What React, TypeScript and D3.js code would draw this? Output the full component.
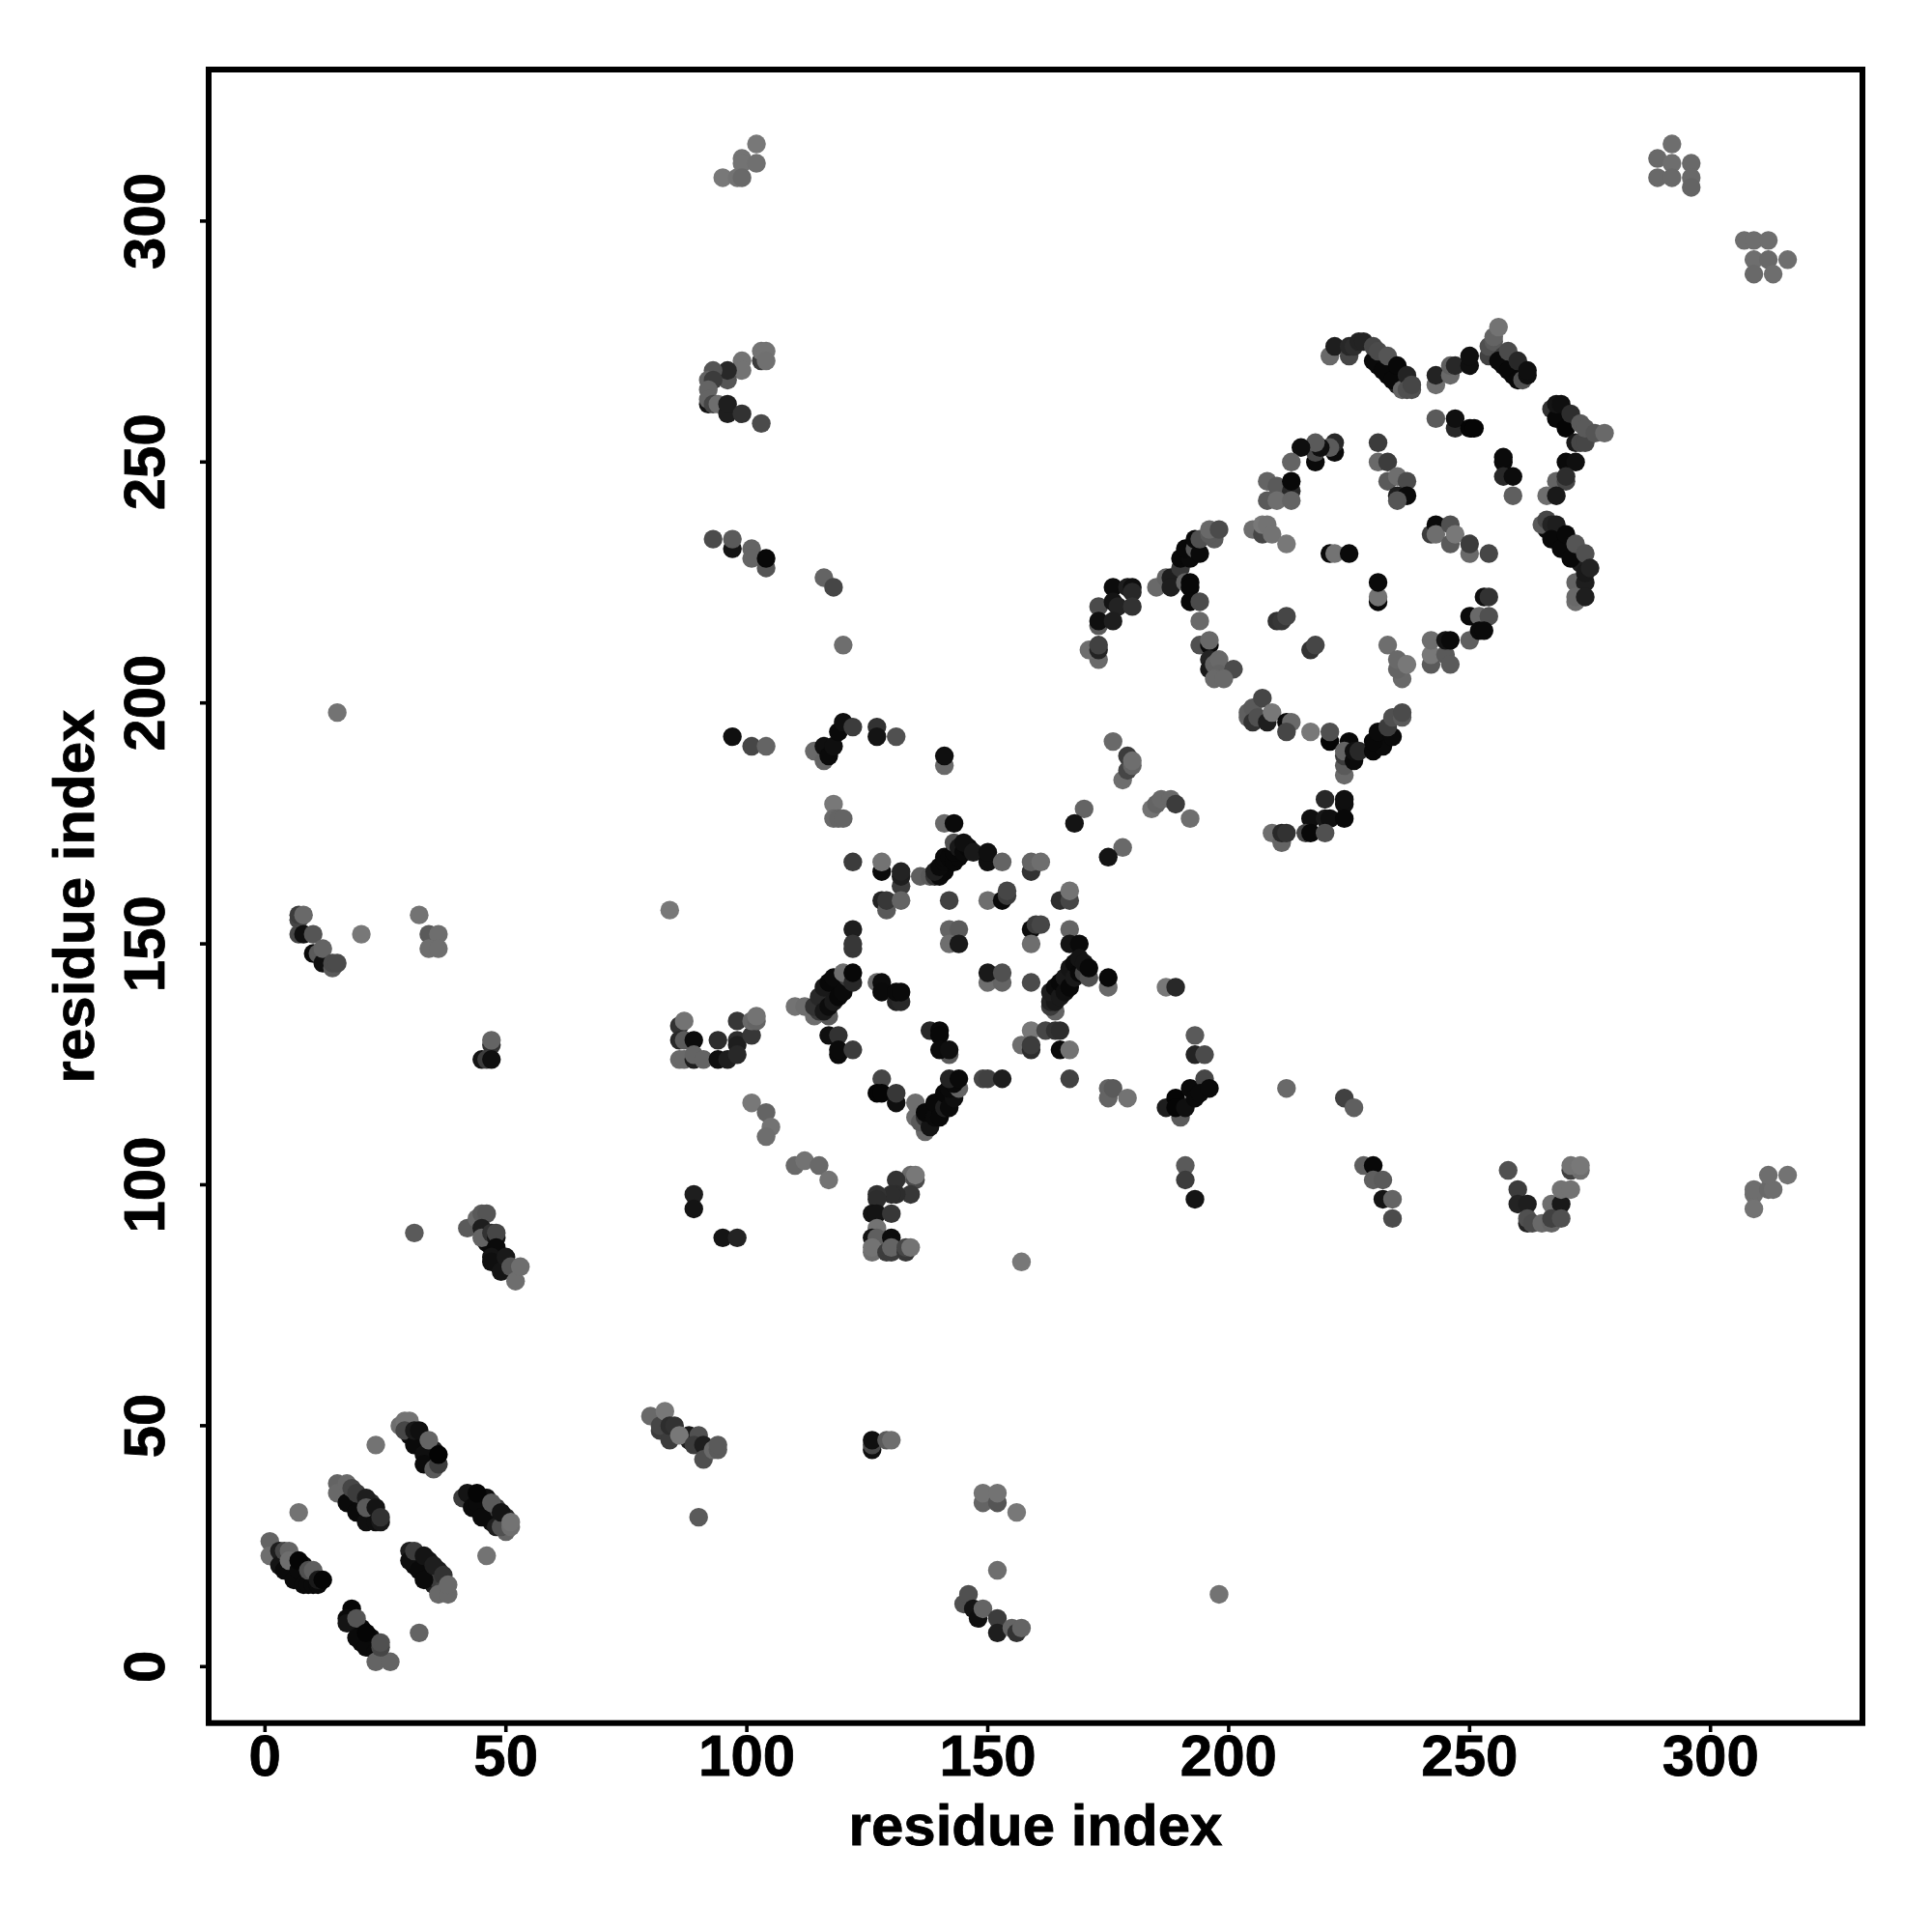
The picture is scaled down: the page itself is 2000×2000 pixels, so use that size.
import React from "react";
import * as d3 from "d3";

type P = [number, number, number];
const xTicks = [0, 50, 100, 150, 200, 250, 300];
const yTicks = [0, 50, 100, 150, 200, 250, 300];
const axisTitle = "residue index";

// [residue x, residue y, grey level]
const bottomLeftA: P[] = [[5,21,10],[6,20,10],[7,19,10],[8,18,10],[8,21,15],[10,18,20],[1,26,100],[1,23,110],[3,24,30],[3,21,20],[4,20,10],[6,18,10],[4,24,70],[5,24,100],[5,22,110],[7,20,10],[8,17,10],[9,17,10],[10,17,10],[7,22,5],[9,20,80],[10,20,95],[11,17,10],[11,18,25],[12,18,5]];
const bottomLeftB: P[] = [[18,35,10],[20,33,10],[22,31,15],[22,34,40],[20,35,40],[15,38,100],[15,36,105],[17,38,105],[17,34,10],[19,32,10],[21,30,15],[23,30,15],[18,37,70],[19,36,60],[21,35,30],[21,33,90],[23,33,20],[24,30,25],[24,31,50]];
const bottomLeftC: P[] = [[30,48,10],[32,47,10],[34,45,10],[35,43,10],[33,47,60],[35,45,30],[28,50,110],[29,51,115],[30,51,115],[29,49,70],[31,46,10],[33,44,15],[33,42,10],[35,41,90],[36,42,60],[31,49,25],[32,49,15],[34,47,100],[36,44,3]];
const bottomLeftD: P[] = [[44,33,10],[46,32,10],[47,30,15],[46,35,15],[48,33,60],[50,31,40],[41,35,60],[42,36,20],[43,33,10],[44,34,10],[45,31,10],[48,29,30],[50,28,100],[44,36,5],[47,34,90],[49,29,80],[49,32,20],[51,29,110],[51,30,115]];
const bottomLeftE: P[] = [[31,21,10],[33,21,10],[34,19,10],[35,17,30],[32,23,30],[34,22,20],[36,20,30],[36,18,60],[37,16,70],[30,24,30],[30,22,15],[32,20,10],[33,18,10],[31,24,60],[33,23,20],[35,21,30],[36,15,105],[38,15,105],[37,19,50],[38,17,105]];
const bottomLeftF: P[] = [[18,10,10],[19,9,15],[20,8,10],[20,5,10],[22,5,10],[22,6,10],[24,2,60],[20,7,10],[18,12,5],[17,10,10],[17,9,20],[19,6,10],[21,4,10],[23,3,10],[19,10,85],[21,7,5],[23,1,100],[26,1,100],[24,4,70],[24,5,80]];
const bottomLeftSingles: P[] = [[7,32,115],[23,46,115],[46,23,115],[32,7,100],[31,90,90],[90,31,90],[157,84,120],[198,15,115],[15,198,115]];

const strandLeft: P[] = [[7,155,70],[7,156,60],[8,156,105],[7,152,70],[8,152,15],[10,152,85],[10,148,10],[11,148,90],[12,146,15],[12,149,100],[14,145,90],[14,146,75],[15,146,75],[20,152,120],[32,156,115],[34,152,90],[36,152,110],[34,149,110],[36,149,110]];
const smallMid: P[] = [[47,129,50],[47,130,100],[45,126,20],[46,126,60],[47,126,15]];
const strandMid: P[] = [[46,88,15],[47,87,10],[48,85,15],[49,84,15],[42,91,90],[44,93,105],[45,94,90],[46,94,85],[45,91,30],[45,89,100],[47,90,50],[48,89,20],[48,90,70],[48,87,10],[47,85,20],[47,84,15],[49,82,20],[50,85,25],[51,83,85],[52,80,110],[53,83,110]];
const clusterA: P[] = [[86,133,50],[87,134,115],[86,130,40],[87,130,90],[89,130,12],[86,126,105],[87,126,105],[89,126,30],[89,127,100],[91,126,100],[94,130,45],[94,126,15],[96,126,30],[98,134,55],[98,130,45],[98,129,30],[98,127,40],[101,131,55],[101,134,105],[102,134,100],[102,135,115]];
const clusterB: P[] = [[89,98,30],[89,95,20],[95,89,20],[98,89,35]];
const curveLeft: P[] = [[84,157,120],[101,117,120],[104,115,100],[105,112,115],[104,110,110],[110,104,105],[112,105,115],[115,104,105],[117,101,115]];
const clusterE: P[] = [[134,102,105],[135,101,75],[135,102,120],[134,98,55],[131,101,50],[131,98,45],[130,98,45],[127,98,50],[127,97,45],[126,94,20],[127,94,20],[130,94,55],[127,91,115],[126,89,20],[127,89,95],[130,89,12],[126,86,110],[126,87,115],[129,86,60],[130,86,60],[130,87,100],[133,86,55],[133,87,70],[134,87,115]];
const bottomMid: P[] = [[80,52,105],[82,49,60],[82,50,70],[83,53,120],[84,47,60],[84,50,45],[85,50,50],[88,47,30],[88,48,25],[86,48,120],[90,48,80],[89,46,60],[91,46,30],[91,43,80],[93,45,105],[94,45,90],[94,46,90]];
const bottomMid2: P[] = [[126,45,15],[126,46,70],[126,47,15],[129,47,90],[130,47,110],[149,34,100],[149,36,115],[152,34,85],[152,36,115],[156,32,120]];
const bottomMid3: P[] = [[145,13,80],[146,15,80],[147,12,20],[148,10,15],[149,12,100],[152,10,60],[152,7,30],[155,8,100],[156,7,50],[157,8,100],[152,20,110]];

const topA: P[] = [[102,316,120],[99,313,115],[99,312,115],[102,312,112],[95,309,120],[98,309,115],[99,309,105]];
const topB: P[] = [[103,271,60],[103,273,115],[104,273,115],[104,271,112],[99,271,115],[99,269,115],[96,267,85],[96,269,40],[93,269,85],[92,267,100],[93,267,60],[92,265,100],[92,262,20],[92,263,100],[93,262,70],[94,262,110],[96,260,30],[96,262,30],[99,260,50],[103,258,75]];
const topC: P[] = [[93,234,75],[97,232,20],[97,234,90],[101,232,100],[101,230,100],[104,228,85],[104,230,8],[116,226,100],[118,224,70],[120,212,110]];
const topD: P[] = [[97,193,15],[101,191,70],[104,191,100],[114,190,105],[116,188,100],[116,191,15],[117,189,10],[118,191,15],[119,194,10],[120,196,15],[122,195,60],[127,195,50],[127,193,20],[131,193,80],[141,187,105],[141,189,15]];
const midA: P[] = [[118,179,120],[118,176,105],[119,176,100],[120,176,100],[141,175,105],[143,175,10],[122,167,60],[128,165,10],[128,167,115],[132,162,60],[132,164,30],[132,165,35],[128,159,35],[129,157,90],[129,159,55],[132,159,100],[142,159,65]];
const starUpper: P[] = [[136,164,95],[138,164,90],[139,164,50],[140,164,10],[141,165,8],[139,165,30],[140,166,10],[141,167,10],[141,168,10],[142,168,8],[143,167,8],[144,168,8],[143,169,8],[143,171,80],[144,170,25],[145,169,10],[146,170,8],[145,171,15],[147,169,25],[150,167,15],[150,169,15],[153,167,100],[159,165,50],[159,167,100],[161,167,110]];
const midRight: P[] = [[170,178,100],[168,175,20],[178,170,105],[175,168,20],[184,178,115],[185,179,100],[186,180,105],[188,180,105],[189,179,60],[192,176,110],[176,192,105],[179,189,60],[178,184,110],[179,186,70],[180,187,100],[180,188,110]];
const starInner: P[] = [[150,159,110],[153,159,10],[154,160,60],[154,161,70],[165,159,45],[167,159,70],[167,161,115],[122,153,30],[122,149,55],[122,150,55],[142,153,100],[144,153,90],[142,150,110],[144,150,25],[159,153,12],[160,154,60],[161,154,70],[159,150,110],[167,153,100],[167,150,20],[169,150,10],[150,142,110],[153,142,100],[150,144,25],[153,144,80],[159,142,75]];
const starRight: P[] = [[164,136,100],[163,137,60],[163,138,35],[164,138,25],[163,140,30],[164,141,12],[165,139,25],[165,142,8],[166,140,15],[166,143,25],[167,141,8],[167,145,20],[168,143,25],[168,146,10],[169,144,8],[170,144,70],[169,147,20],[170,146,20],[171,143,80],[171,145,8],[175,141,105],[175,143,8],[187,141,120],[189,141,40]];
const starLeft: P[] = [[110,137,115],[112,137,110],[114,135,110],[117,135,90],[115,136,60],[114,137,50],[115,139,40],[116,136,25],[116,141,25],[117,137,12],[117,142,8],[118,138,25],[118,143,10],[119,139,8],[120,140,10],[121,143,60],[120,144,110],[122,142,40],[122,144,8],[127,142,105],[128,142,12],[128,140,10],[131,138,35],[132,138,40],[131,140,10],[132,140,10],[117,131,15],[119,131,50],[119,127,10],[119,128,10],[122,128,60],[138,132,40],[140,132,10],[140,131,8],[142,127,90],[140,128,10],[142,128,15]];
const starBottom: P[] = [[128,122,70],[127,119,5],[128,119,5],[131,117,15],[131,119,55],[135,114,110],[135,117,110],[137,111,105],[136,113,90],[137,114,50],[138,112,20],[137,115,8],[139,114,10],[139,117,8],[140,114,8],[141,116,30],[141,119,8],[142,116,10],[143,118,15],[142,120,10],[144,120,100],[143,121,10],[142,122,35],[144,122,10],[149,122,70],[150,122,65],[153,122,30],[167,122,65]];
const starLower: P[] = [[159,132,120],[162,132,70],[164,132,50],[165,132,45],[157,129,110],[159,128,45],[159,129,60],[165,128,10],[167,128,115],[175,120,100],[175,118,100],[176,120,90],[179,118,115],[193,131,90],[193,127,35],[195,127,75]];
const starEast: P[] = [[187,116,30],[189,118,5],[190,114,90],[189,116,5],[191,116,15],[192,120,10],[193,118,10],[195,122,70],[194,119,10],[196,120,10],[191,104,90],[191,101,60],[193,97,20],[212,120,105]];
const lowerRight: P[] = [[224,118,65],[226,116,95],[228,104,95],[230,104,8],[230,101,95],[232,101,90],[232,97,20],[234,97,100],[234,93,75]];
const veeShape: P[] = [[258,103,80],[260,99,60],[260,96,35],[262,96,30],[262,92,35],[262,93,80],[263,92,75],[265,92,105],[267,96,110],[269,96,25],[267,92,100],[267,93,65],[269,93,80],[269,99,115],[271,99,115],[271,103,65],[273,103,110],[271,104,115],[273,104,120]];
const farRight: P[] = [[309,98,110],[309,99,110],[309,95,115],[312,99,105],[313,99,110],[312,102,110],[316,102,115]];
const cornerA: P[] = [[289,313,105],[289,309,105],[292,316,110],[292,312,110],[292,309,105],[296,312,105],[296,309,105],[296,307,100]];
const cornerB: P[] = [[307,296,110],[309,296,110],[312,296,110],[309,292,110],[309,289,105],[312,292,105],[313,289,110],[316,292,110]];

const wingUp: P[] = [[176,224,12],[179,224,30],[180,224,15],[180,223,40],[173,220,75],[176,221,20],[177,220,35],[180,220,50],[173,216,90],[173,217,15],[176,217,30],[173,209,105],[171,211,110],[173,211,35],[173,212,65]];
const ladderA: P[] = [[185,224,105],[187,226,100],[188,226,30],[188,224,30],[190,228,55],[191,225,100],[192,225,8],[192,224,8],[192,221,8],[194,221,75],[194,217,105],[190,230,8],[192,230,10],[191,232,8],[193,232,85],[194,231,10],[193,234,10],[194,234,80],[197,234,90],[196,235,90],[196,236,105],[198,236,75],[194,212,80],[196,212,10],[196,213,105]];
const blobA: P[] = [[196,209,35],[196,207,25],[197,208,100],[198,209,105],[198,206,100],[201,207,75],[197,205,105],[199,205,105]];
const ringLeft: P[] = [[204,197,100],[204,198,95],[205,199,90],[207,201,70],[205,196,50],[206,197,80],[208,196,30],[209,198,120],[212,196,10],[213,196,105],[212,194,70],[217,194,120],[221,192,5],[221,194,80]];
const ringBottom: P[] = [[224,185,105],[224,187,90],[224,189,60],[225,192,8],[224,190,100],[226,188,10],[226,190,15],[227,190,40],[230,190,8],[232,191,10],[230,192,8],[231,194,10],[234,193,10],[233,195,60],[234,197,80],[236,197,90],[236,198,75]];
const ringLower: P[] = [[220,180,40],[224,179,15],[224,180,15],[217,176,15],[220,176,25],[221,176,15],[224,176,8],[216,173,70],[217,173,8],[220,173,80],[209,173,110],[211,171,100],[211,173,40],[212,173,50]];
const ringUpperLeft: P[] = [[205,236,110],[207,235,70],[207,237,120],[208,237,115],[209,235,115],[212,233,120],[221,231,10],[222,231,115],[225,231,10],[231,221,8],[231,222,115],[231,225,10],[210,217,50],[211,217,55],[212,218,70],[217,211,50],[218,212,70],[233,212,110],[236,205,105],[235,207,100],[235,209,105],[237,208,120]];
const ringInner: P[] = [[242,208,90],[242,210,120],[242,213,110],[245,210,90],[246,208,90],[245,213,20],[246,213,10],[250,213,95],[250,218,10],[252,218,105],[254,218,80],[252,215,10],[253,215,10],[253,222,15],[254,222,50],[242,235,60],[243,237,10],[243,235,110],[246,237,80],[246,233,90],[247,235,120],[250,231,105],[250,233,60],[254,231,70]];
const arcTop: P[] = [[231,270,8],[233,268,8],[235,266,30],[232,271,20],[234,270,30],[236,268,30],[221,272,105],[222,274,30],[225,272,70],[225,274,40],[226,274,45],[227,275,35],[228,275,35],[230,271,10],[232,269,8],[234,267,8],[230,274,70],[231,273,75],[233,272,85],[235,270,8],[236,265,100],[237,268,35],[237,265,80],[238,265,80],[238,266,70]];
const arcTopRight: P[] = [[243,266,110],[243,268,35],[246,268,105],[246,270,95],[247,270,40],[250,270,15],[250,272,15],[254,272,65],[254,274,80],[255,275,90],[255,276,100],[256,278,115],[257,270,10],[259,268,8],[261,268,10],[257,272,60],[256,271,10],[258,269,8],[258,273,75],[260,267,8],[260,271,40],[261,267,80],[262,268,15],[262,269,15]];
const arcInner: P[] = [[243,259,90],[247,257,40],[247,259,15],[250,257,5],[251,257,5],[257,250,10],[257,251,10],[257,247,40],[259,247,12],[259,243,95]];
const arcRight: P[] = [[267,261,50],[268,259,8],[268,262,20],[269,262,15],[270,257,5],[271,260,45],[272,254,25],[273,254,70],[274,254,70],[273,258,90],[274,257,90],[276,256,85],[278,256,105],[270,250,10],[272,250,15],[268,246,100],[270,246,70],[270,247,45],[266,243,110],[268,243,25]];
const arcBottomRight: P[] = [[266,236,8],[268,235,8],[269,234,8],[270,232,8],[272,230,8],[271,233,40],[273,231,60],[273,229,30],[265,237,90],[266,238,70],[267,237,35],[268,237,30],[267,234,8],[269,232,8],[271,230,8],[270,235,8],[272,233,85],[274,231,80],[272,225,100],[274,225,30],[274,227,25],[275,228,35],[272,221,110],[272,222,105],[274,222,30]];
const ringTop: P[] = [[222,252,10],[222,254,40],[221,253,90],[218,250,10],[218,252,70],[219,253,15],[218,254,90],[215,253,15],[213,250,100],[208,246,100],[210,245,90],[213,244,40],[213,246,8],[208,242,90],[210,242,110],[213,242,100],[231,254,60],[231,250,105],[233,250,60],[233,246,90],[235,247,110],[237,246,75],[235,243,30],[237,243,10],[235,242,85]];

const clusters: P[][] = [bottomLeftA,bottomLeftB,bottomLeftC,bottomLeftD,bottomLeftE,bottomLeftF,bottomLeftSingles,strandLeft,smallMid,strandMid,clusterA,clusterB,curveLeft,clusterE,bottomMid,bottomMid2,bottomMid3,topA,topB,topC,topD,midA,starUpper,midRight,starInner,starRight,starLeft,starBottom,starLower,starEast,lowerRight,veeShape,farRight,cornerA,cornerB,wingUp,ladderA,blobA,ringLeft,ringBottom,ringLower,ringUpperLeft,ringInner,arcTop,arcTopRight,arcInner,arcRight,arcBottomRight,ringTop];

const x = d3.scaleLinear().domain([-11.69, 331.53]).range([216, 1928]);
const y = d3.scaleLinear().domain([-11.71, 331.45]).range([1783.7, 72]);
const font = "'Liberation Sans', Arial, sans-serif";

export default function App() {
  const points = clusters.flat();
  return (
    <svg width={2000} height={2000} viewBox="0 0 2000 2000" style={{ position: "absolute", left: 0, top: 0, background: "#fff" }}>
      {points.map((p, i) => (
        <circle key={i} cx={x(p[0])} cy={y(p[1])} r={9.7} fill={d3.rgb(p[2], p[2], p[2]).formatHex()} />
      ))}
      <rect x={216} y={72} width={1712} height={1711.7} fill="none" stroke="#000" strokeWidth={6} />
      {xTicks.map((t) => (
        <g key={t}>
          <line x1={x(t)} x2={x(t)} y1={1783.7} y2={1793} stroke="#000" strokeWidth={3.6} />
          <text x={x(t)} y={1838} textAnchor="middle" fontFamily={font} fontWeight={700} fontSize={60} fill="#000" stroke="#000" strokeWidth={0.8}>{t}</text>
        </g>
      ))}
      {yTicks.map((t) => (
        <g key={t}>
          <line x1={216} x2={207} y1={y(t)} y2={y(t)} stroke="#000" strokeWidth={3.6} />
          <text transform={`translate(170,${y(t)}) rotate(-90)`} textAnchor="middle" fontFamily={font} fontWeight={700} fontSize={60} fill="#000" stroke="#000" strokeWidth={0.8}>{t}</text>
        </g>
      ))}
      <text x={1072} y={1910} textAnchor="middle" fontFamily={font} fontWeight={700} fontSize={60} fill="#000" stroke="#000" strokeWidth={0.8}>{axisTitle}</text>
      <text transform="translate(97,928) rotate(-90)" textAnchor="middle" fontFamily={font} fontWeight={700} fontSize={60} fill="#000" stroke="#000" strokeWidth={0.8}>{axisTitle}</text>
    </svg>
  );
}
